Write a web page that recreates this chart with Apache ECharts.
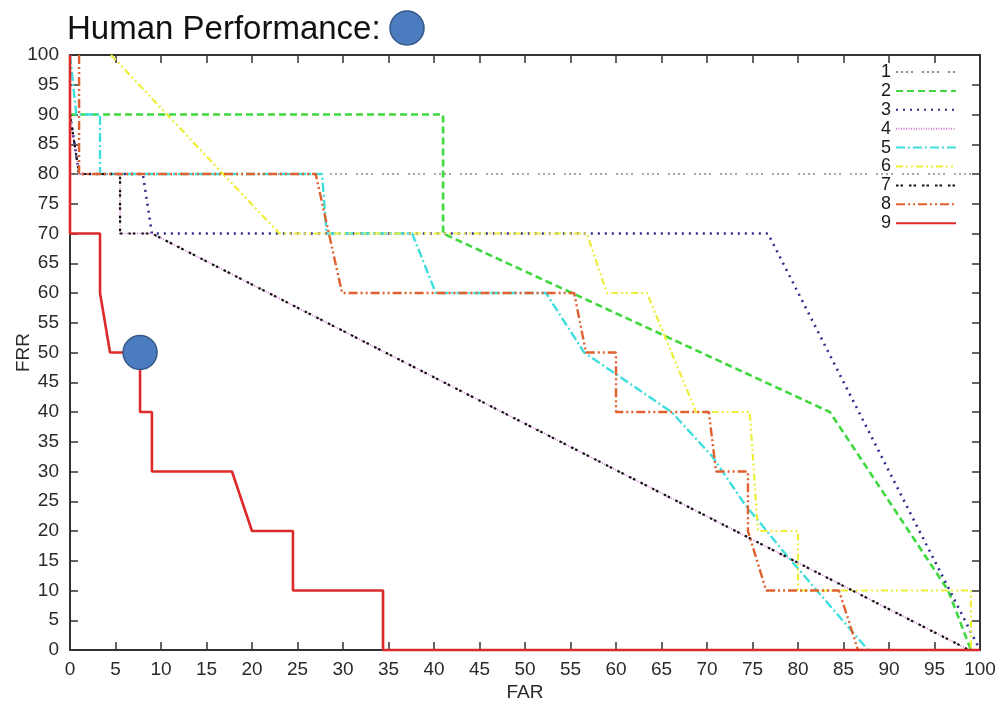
<!DOCTYPE html>
<html>
<head>
<meta charset="utf-8">
<style>
  html, body { margin: 0; padding: 0; background: #fff; }
  #chart { width: 1006px; height: 707px; }
</style>
<script src="https://cdn.jsdelivr.net/npm/echarts@6/dist/echarts.min.js"></script>
</head>
<body>
<div id="chart"></div>
<script>
// ROC-like curves, [FAR, FRR] pairs
const seriesNames = ['1', '2', '3', '4', '5', '6', '7', '8', '9']
const curve1 = [[0, 80], [100, 80]]
const curve2 = [[0, 90], [41, 90], [41, 70], [83.5, 40], [96.5, 10], [99, 0]]
const curve3 = [[0, 90], [1, 80], [8, 80], [9, 70], [76.7, 70], [100, 0]]
const curve4 = [[0, 90], [1, 80], [5.5, 80], [5.5, 70], [9, 70], [98.8, 0]]
const curve5 = [[0, 100], [0.7, 90], [3.3, 90], [3.3, 80], [27.7, 80], [28.2, 70], [37.6, 70], [40.2, 60],
  [52.3, 60], [56.5, 50], [66.1, 40], [70.6, 32.5], [74.1, 24.6], [78.7, 16], [87.7, 0]]
const curve6 = [[4.5, 100], [23, 70], [56.8, 70], [59, 60], [63.4, 60], [68.8, 40], [74.7, 40], [75.6, 20],
  [80, 20], [80, 10], [99, 10], [99, 0]]
const curve7 = [[0, 90], [1, 80], [5.5, 80], [5.5, 70], [9, 70], [98.8, 0]]
const curve8 = [[1, 100], [1, 80], [27, 80], [29.9, 60], [55.4, 60], [56.7, 50], [60, 50], [60, 40], [70.2, 40],
  [71, 30], [74.5, 30], [74.5, 20], [76.5, 10], [84.5, 10], [86.6, 0]]
const curve9 = [[0, 100], [0, 70], [3.3, 70], [3.3, 60], [4.4, 50], [7.7, 50], [7.7, 40], [9, 40], [9, 30],
  [17.8, 30], [20, 20], [24.5, 20], [24.5, 10], [34.4, 10], [34.4, 0], [100, 0]]
const humanPoint = [[7.7, 50]]
const axisTicks = { min: 0, max: 100, interval: 5 }

const curves = [curve1, curve2, curve3, curve4, curve5, curve6, curve7, curve8, curve9]

const styles = [
  { color: '#8a8a8a', width: 1.6, type: [2, 3, 2, 3, 2, 3, 2, 9] },
  { color: '#3fd83f', width: 2.6, type: [7, 4] },
  { color: '#2e2e8c', width: 2.6, type: [2, 5] },
  { color: '#d277d2', width: 1.6, type: [1, 1.5] },
  { color: '#3fdede', width: 2.4, type: [9, 3, 2, 3] },
  { color: '#eeee3a', width: 2.2, type: [7, 3, 2, 3, 2, 3] },
  { color: '#111111', width: 2.2, type: [2.5, 2, 2.5, 6] },
  { color: '#e0612f', width: 2.4, type: [9, 3, 2, 3, 2, 3] },
  { color: '#dc2a2a', width: 2.6, type: 'solid' },
]

const chart = echarts.init(document.getElementById('chart'))

const labelFont = { fontFamily: 'Liberation Sans, Arial, sans-serif', fontSize: 19, color: '#2a2a2a' }

const mainAxis = (extra) => Object.assign({
  type: 'value',
  min: axisTicks.min,
  max: axisTicks.max,
  interval: axisTicks.interval,
  splitLine: { show: false },
  axisLine: { show: true, onZero: false, lineStyle: { color: '#333', width: 2 } },
  axisTick: { show: true, inside: true, length: 8, lineStyle: { color: '#333', width: 1.5 } },
}, extra)

const lineSeries = curves.map((data, i) => ({
  name: seriesNames[i],
  type: 'line',
  data,
  symbol: 'none',
  clip: false,
  animation: false,
  lineStyle: Object.assign({ cap: 'butt' }, styles[i]),
  itemStyle: { color: styles[i].color },
  z: 2 + i,
}))

chart.setOption({
  backgroundColor: '#fff',
  animation: false,
  title: {
    text: 'Human Performance:',
    left: 62,
    top: 8,
    textStyle: { fontFamily: 'Liberation Sans, Arial, sans-serif', fontSize: 33, fontWeight: 'normal', color: '#111' },
  },
  graphic: [
    {
      type: 'circle',
      shape: { cx: 407, cy: 28, r: 17 },
      style: { fill: '#4a7cbf', stroke: '#36598a', lineWidth: 1.5 },
    },
  ],
  grid: { left: 70, right: 26, top: 55, bottom: 57, outerBoundsMode: 'none' },
  legend: {
    data: seriesNames,
    orient: 'vertical',
    right: 44,
    top: 58,
    align: 'right',
    itemWidth: 60,
    itemHeight: 14,
    itemGap: 0.9,
    itemStyle: { opacity: 0 },
    textStyle: { fontFamily: 'Liberation Sans, Arial, sans-serif', fontSize: 18, color: '#1a1a1a' },
  },
  xAxis: [
    mainAxis({
      position: 'bottom',
      name: 'FAR',
      nameLocation: 'middle',
      nameGap: 33,
      nameMoveOverlap: false,
      nameTextStyle: labelFont,
      axisLabel: Object.assign({ margin: 10 }, labelFont),
    }),
    mainAxis({ position: 'top', axisLabel: { show: false } }),
  ],
  yAxis: [
    mainAxis({
      position: 'left',
      name: 'FRR',
      nameLocation: 'middle',
      nameGap: 37,
      nameMoveOverlap: false,
      nameTextStyle: labelFont,
      axisLabel: Object.assign({ margin: 11 }, labelFont),
    }),
    mainAxis({ position: 'right', axisLabel: { show: false } }),
  ],
  series: lineSeries.concat([
    {
      name: 'Human',
      type: 'scatter',
      data: humanPoint,
      symbolSize: 34,
      itemStyle: { color: '#4a7cbf', borderColor: '#36598a', borderWidth: 1.5, opacity: 1 },
      z: 20,
      animation: false,
    },
  ]),
})

window.addEventListener('resize', () => chart.resize())
</script>
</body>
</html>
